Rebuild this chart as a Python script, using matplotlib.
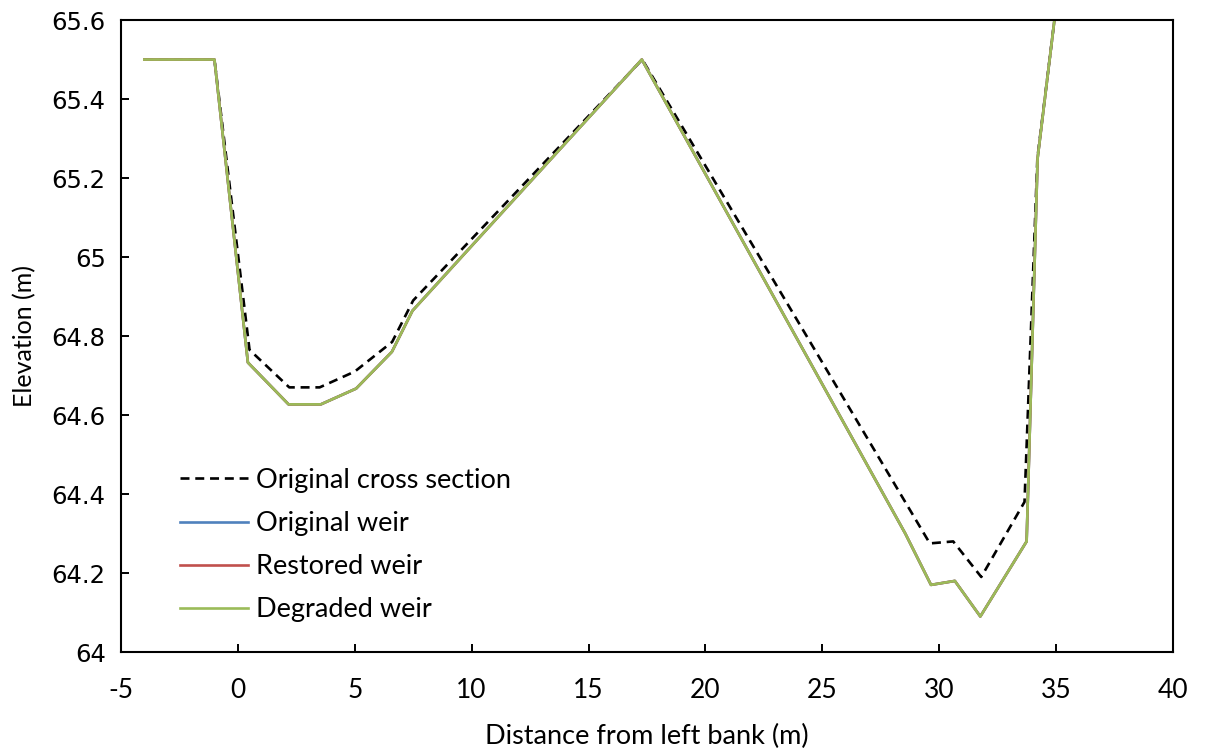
import matplotlib
matplotlib.use('Agg')
import matplotlib.pyplot as plt
from matplotlib.ticker import FuncFormatter

# distance from left bank (m) and elevation (m)
dist_orig = [-4, -1, 0.5, 2.2, 3.5, 5.0, 6.6, 7.5, 17.3, 29.6, 30.6, 31.8, 33.65, 34.2, 34.93]
elev_orig = [65.5, 65.5, 64.765, 64.67, 64.67, 64.71, 64.785, 64.89, 65.5, 64.275, 64.28, 64.19, 64.38, 65.25, 65.6]

dist_weir = [-4, -1, 0.43, 2.17, 3.55, 5.06, 6.59, 7.47, 17.28, 28.55, 29.65, 30.67, 31.76, 33.74, 34.21, 34.93]
elev_orig_weir = [65.5, 65.5, 64.733, 64.627, 64.627, 64.667, 64.76, 64.864, 65.5, 64.30, 64.17, 64.18, 64.09, 64.28, 65.25, 65.6]
elev_restored = [65.5, 65.5, 64.733, 64.627, 64.627, 64.667, 64.76, 64.864, 65.5, 64.30, 64.17, 64.18, 64.09, 64.28, 65.25, 65.6]
elev_degraded = [65.5, 65.5, 64.733, 64.627, 64.627, 64.667, 64.76, 64.864, 65.5, 64.30, 64.17, 64.18, 64.09, 64.28, 65.25, 65.6]

xticks = list(range(-5, 41, 5))
yticks = [64, 64.2, 64.4, 64.6, 64.8, 65, 65.2, 65.4, 65.6]

plt.rcParams['font.family'] = ['Lato', 'DejaVu Sans']
plt.rcParams['axes.unicode_minus'] = False

fig = plt.figure(figsize=(12.07, 7.53), dpi=100)
ax = fig.add_axes([0.1002, 0.1341, 0.8716, 0.8393])

lw = 1.9
ax.plot(dist_orig, elev_orig, color='black', lw=lw, ls=(0, (3.4, 2.2)), label='Original cross section')
ax.plot(dist_weir, elev_orig_weir, color='#4F81BD', lw=lw, label='Original weir')
ax.plot(dist_weir, elev_restored, color='#C0504D', lw=lw, label='Restored weir')
ax.plot(dist_weir, elev_degraded, color='#9BBB59', lw=lw, label='Degraded weir')

ax.set_xlim(-5, 40)
ax.set_ylim(64, 65.6)
ax.set_xticks(xticks)
ax.set_yticks(yticks)
ax.yaxis.set_major_formatter(FuncFormatter(lambda v, p: '%g' % round(v, 1)))
ax.tick_params(direction='in', length=6, width=1.4)
ax.tick_params(axis='x', labelsize=19, pad=19)
ax.tick_params(axis='y', pad=11)
for lab in ax.get_yticklabels():
    lab.set_fontfamily('DejaVu Sans')
    lab.set_fontsize(17.5)
for s in ax.spines.values():
    s.set_linewidth(1.5)

ax.set_xlabel('Distance from left bank (m)', fontsize=19.5, labelpad=15)
ax.set_ylabel('Elevation (m)', fontsize=18, labelpad=11)

ax.legend(loc='lower left', bbox_to_anchor=(0.056, 0.047), frameon=False, fontsize=19.5,
          handlelength=2.5, handletextpad=0.3, labelspacing=0.67, borderpad=0, borderaxespad=0)

plt.savefig('out.png', dpi=100)
